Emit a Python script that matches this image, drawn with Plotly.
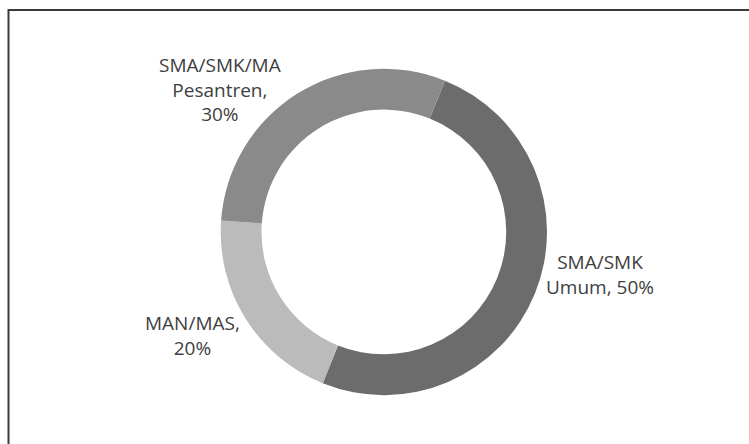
import plotly.graph_objects as go

categories = ["SMA/SMK Umum", "MAN/MAS", "SMA/SMK/MA Pesantren"]
values = [50, 20, 30]
label_names = ["SMA/SMK<br>Umum", "MAN/MAS", "SMA/SMK/MA<br>Pesantren"]
label_separators = [", ", ",<br>", ",<br>"]
colors = ["#6c6c6c", "#bbbbbb", "#8a8a8a"]

# label anchor positions (px in 749x444 canvas)
label_px = [(600, 274), (192, 335), (220, 89)]

W, H = 749, 444
total = sum(values)

fig = go.Figure(go.Pie(
    labels=categories,
    values=values,
    textinfo="none",
    hole=0.75,
    sort=False,
    direction="clockwise",
    rotation=22,
    automargin=False,
    marker=dict(colors=colors, line=dict(width=0)),
    showlegend=False,
    domain=dict(x=[0.112, 0.913], y=[0.110, 0.845]),
))

annotations = []
for name, sep, v, (px, py) in zip(label_names, label_separators, values, label_px):
    annotations.append(dict(
        text=f"{name}{sep}{round(v / total * 100)}%",
        x=px / W, y=1 - py / H, xref="paper", yref="paper",
        xanchor="center", yanchor="middle", align="center",
        showarrow=False,
        font=dict(family="Open Sans", size=19, color="#404040"),
    ))

fig.update_layout(
    width=W, height=H,
    margin=dict(l=0, r=0, t=0, b=0, autoexpand=False),
    paper_bgcolor="white",
    plot_bgcolor="white",
    annotations=annotations,
    shapes=[dict(type="rect", xref="paper", yref="paper",
                 x0=8.5 / W, x1=1.01, y0=-0.01, y1=1 - 10 / H,
                 line=dict(color="#3a3a3a", width=2))],
)

fig.write_html("out.html", config={"displayModeBar": False},
               post_script="document.body.style.margin='0px';")
